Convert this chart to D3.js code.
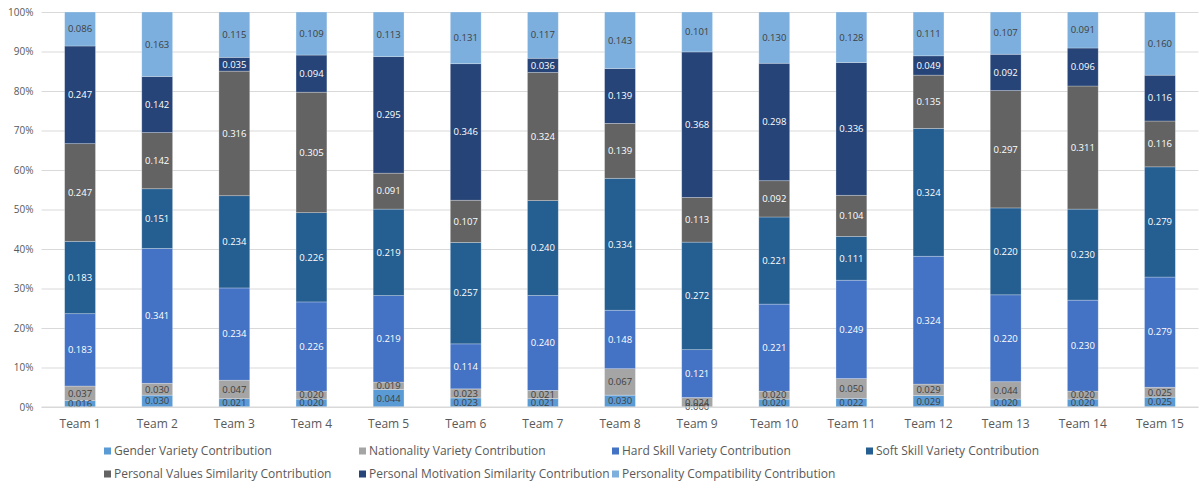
<!DOCTYPE html>
<html>
<head>
<meta charset="utf-8">
<script src="https://cdn.jsdelivr.net/npm/d3@7"></script>
<style>
  html, body { margin: 0; padding: 0; background: #fff; }
  svg { display: block; font-family: "Open Sans", "Noto Sans", sans-serif; }
</style>
</head>
<body>
<svg id="chart" width="1200" height="484"></svg>
<script>
// Team categories
const teams = ["Team 1", "Team 2", "Team 3", "Team 4", "Team 5", "Team 6", "Team 7", "Team 8",
               "Team 9", "Team 10", "Team 11", "Team 12", "Team 13", "Team 14", "Team 15"];

// Contribution series, bottom of the stack to the top
const seriesNames = [
  "Gender Variety Contribution",
  "Nationality Variety Contribution",
  "Hard Skill Variety Contribution",
  "Soft Skill Variety Contribution",
  "Personal Values Similarity Contribution",
  "Personal Motivation Similarity Contribution",
  "Personality Compatibility Contribution"
];

const genderVariety       = [0.016, 0.030, 0.021, 0.020, 0.044, 0.023, 0.021, 0.030, 0.000, 0.020, 0.022, 0.029, 0.020, 0.020, 0.025];
const nationalityVariety  = [0.037, 0.030, 0.047, 0.020, 0.019, 0.023, 0.021, 0.067, 0.024, 0.020, 0.050, 0.029, 0.044, 0.020, 0.025];
const hardSkillVariety    = [0.183, 0.341, 0.234, 0.226, 0.219, 0.114, 0.240, 0.148, 0.121, 0.221, 0.249, 0.324, 0.220, 0.230, 0.279];
const softSkillVariety    = [0.183, 0.151, 0.234, 0.226, 0.219, 0.257, 0.240, 0.334, 0.272, 0.221, 0.111, 0.324, 0.220, 0.230, 0.279];
const valuesSimilarity    = [0.247, 0.142, 0.316, 0.305, 0.091, 0.107, 0.324, 0.139, 0.113, 0.092, 0.104, 0.135, 0.297, 0.311, 0.116];
const motivationSimilarity= [0.247, 0.142, 0.035, 0.094, 0.295, 0.346, 0.036, 0.139, 0.368, 0.298, 0.336, 0.049, 0.092, 0.096, 0.116];
const personalityCompat   = [0.086, 0.163, 0.115, 0.109, 0.113, 0.131, 0.117, 0.143, 0.101, 0.130, 0.128, 0.111, 0.107, 0.091, 0.160];

const yTicks = [0, 0.1, 0.2, 0.3, 0.4, 0.5, 0.6, 0.7, 0.8, 0.9, 1.0];

const seriesValues = [genderVariety, nationalityVariety, hardSkillVariety, softSkillVariety,
                      valuesSimilarity, motivationSimilarity, personalityCompat];
const colors = ["#5B9BD5", "#A5A5A5", "#4472C4", "#255E91", "#636363", "#264478", "#7CAFDD"];
const labelColors = ["#404040", "#404040", "#ffffff", "#ffffff", "#ffffff", "#ffffff", "#404040"];

// Rows for the stack generator, each team normalised to 100%
const rows = teams.map((t, i) => {
  const row = { team: t };
  const total = d3.sum(seriesValues, s => s[i]);
  seriesNames.forEach((n, k) => { row[n] = seriesValues[k][i] / total; row[n + "_raw"] = seriesValues[k][i]; });
  return row;
});
const stacked = d3.stack().keys(seriesNames)(rows);

const svg = d3.select("#chart");
const margin = { left: 41.5, right: 1.5, top: 12, bottom: 77 };
const W = 1200, H = 484;

const x = d3.scaleBand().domain(teams).range([margin.left, W - margin.right]).paddingInner(0.6).paddingOuter(0.3);
const y = d3.scaleLinear().domain([0, 1]).range([H - margin.bottom, margin.top]);

// Gridlines and y labels
const yAxis = d3.axisLeft(y).tickValues(yTicks).tickFormat(d3.format(".0%"))
  .tickSize(-(W - margin.left - margin.right)).tickPadding(8);
const gy = svg.append("g").attr("transform", `translate(${margin.left},0)`).call(yAxis);
gy.select(".domain").remove();
gy.selectAll(".tick line").attr("stroke", "#D9D9D9").attr("stroke-width", 1);
gy.selectAll(".tick text").attr("fill", "#595959").style("font-size", "10px")
  .style("font-family", "'Open Sans', sans-serif");

// Bars
const layers = svg.append("g").selectAll("g").data(stacked).join("g")
  .attr("fill", (d, i) => colors[i]);
layers.selectAll("rect").data(d => d).join("rect")
  .attr("x", d => x(d.data.team))
  .attr("width", x.bandwidth())
  .attr("y", d => y(d[1]))
  .attr("height", d => y(d[0]) - y(d[1]))
  .attr("stroke", "rgba(255,255,255,0.35)")
  .attr("stroke-width", 0.75);

// Value labels
const labelGroups = svg.append("g").selectAll("g").data(stacked).join("g");
labelGroups.each(function(layer, li) {
  d3.select(this).selectAll("text").data(layer).join("text")
    .attr("x", d => x(d.data.team) + x.bandwidth() / 2)
    .attr("y", d => (y(d[0]) + y(d[1])) / 2)
    .attr("dy", "0.35em")
    .attr("text-anchor", "middle")
    .attr("fill", labelColors[li])
    .style("font-size", "9.5px")
    .text(d => d3.format(".3f")(d.data[layer.key + "_raw"]));
});

// X axis
const xAxis = d3.axisBottom(x).tickSize(0).tickPadding(12);
const gx = svg.append("g").attr("transform", `translate(0,${y(0)})`).call(xAxis);
gx.select(".domain").attr("stroke", "#D9D9D9").attr("d", `M${margin.left},0H${W - margin.right}`);
gx.selectAll(".tick text").attr("fill", "#595959").style("font-size", "12px")
  .style("font-family", "'Open Sans', sans-serif");

// Legend
const legendCols = [104, 359, 612, 866];
const legendRows = [451, 474];
const legend = svg.append("g").selectAll("g").data(seriesNames).join("g")
  .attr("transform", (d, i) => `translate(${legendCols[i % 4]},${legendRows[Math.floor(i / 4)]})`);
legend.append("rect").attr("x", 0).attr("y", -3.5).attr("width", 7).attr("height", 7)
  .attr("fill", (d, i) => colors[i]);
legend.append("text").attr("x", 10).attr("dy", "0.35em").attr("fill", "#595959")
  .style("font-size", "12px").text(d => d);
</script>
</body>
</html>
